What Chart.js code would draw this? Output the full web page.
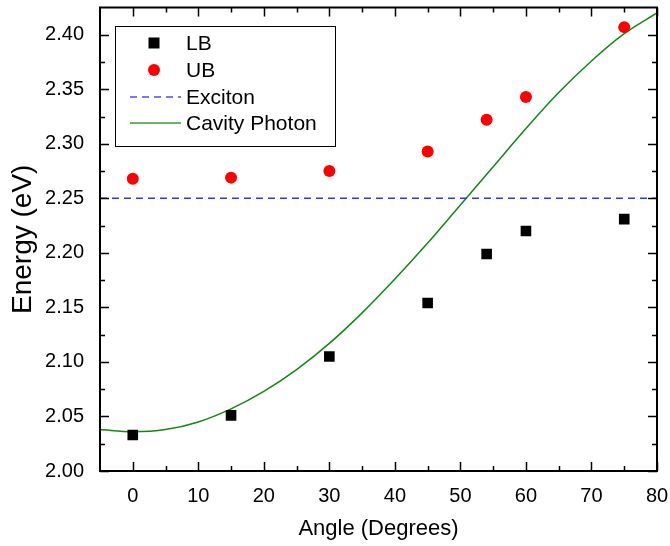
<!DOCTYPE html>
<html>
<head>
<meta charset="utf-8">
<script src="https://cdn.jsdelivr.net/npm/chart.js@4.4.0/dist/chart.umd.min.js"></script>
<style>
    html, body { margin: 0; padding: 0; background: #fff; }
    #wrap { width: 670px; height: 546px; }
</style>
</head>
<body>
<div id="wrap"><canvas id="chart" width="670" height="546"></canvas></div>
<script>
// measured points
const angles = [0, 15, 30, 45, 54, 60, 75];
const lbEnergy = [2.033, 2.051, 2.105, 2.154, 2.199, 2.220, 2.231];
const ubEnergy = [2.268, 2.269, 2.275, 2.293, 2.322, 2.343, 2.407];

// exciton level
const excitonAngles = [-5, 80];
const excitonEnergy = [2.25, 2.25];

// cavity photon curve, every 5 degrees
const photonAngles = [-5, 0, 5, 10, 15, 20, 25, 30, 35, 40, 45, 50, 55, 60, 65, 70, 75, 80];
const photonEnergy = [2.038, 2.036, 2.038, 2.045, 2.057, 2.073, 2.093, 2.117, 2.145, 2.176, 2.209, 2.244, 2.279, 2.314, 2.347, 2.376, 2.401, 2.420];

const xTicks = [0, 10, 20, 30, 40, 50, 60, 70, 80];
const yTicks = [2.00, 2.05, 2.10, 2.15, 2.20, 2.25, 2.30, 2.35, 2.40];

const FONT = 'Liberation Sans, Arial, sans-serif';

const toPoints = (xs, ys) => xs.map((x, i) => ({ x: x, y: ys[i] }));

// frame with inward ticks on all four sides
const framePlugin = {
    id: 'frame',
    afterDatasetsDraw(chart) {
        const { ctx, chartArea: a, scales } = chart;
        const xs = scales.x, ys = scales.y;
        ctx.save();
        ctx.strokeStyle = '#000';
        ctx.lineWidth = 1.5;
        ctx.beginPath();
        for (let v = 0; v <= 80; v += 5) {
            const px = Math.round(xs.getPixelForValue(v)) + 0.5;
            const len = v % 10 === 0 ? 9 : 5;
            ctx.moveTo(px, a.bottom); ctx.lineTo(px, a.bottom - len);
            ctx.moveTo(px, a.top); ctx.lineTo(px, a.top + len);
        }
        for (let k = 0; k <= 16; k++) {
            const v = 2.0 + k * 0.025;
            const py = Math.round(ys.getPixelForValue(v)) + 0.5;
            const len = k % 2 === 0 ? 9 : 5;
            ctx.moveTo(a.left, py); ctx.lineTo(a.left + len, py);
            ctx.moveTo(a.right, py); ctx.lineTo(a.right - len, py);
        }
        ctx.stroke();
        ctx.lineWidth = 2;
        ctx.strokeRect(a.left, a.top, a.right - a.left, a.bottom - a.top);
        ctx.restore();
    }
};

// boxed legend in the upper left
const legendPlugin = {
    id: 'boxLegend',
    afterDraw(chart) {
        const ctx = chart.ctx;
        const box = { x: 115, y: 26, w: 220, h: 120 };
        ctx.save();
        ctx.fillStyle = '#fff';
        ctx.fillRect(box.x, box.y, box.w, box.h);
        ctx.strokeStyle = '#000';
        ctx.lineWidth = 1;
        ctx.strokeRect(box.x + 0.5, box.y + 0.5, box.w, box.h);

        const rows = [43, 70, 97, 123];
        const sx = 154, tx = 186;
        const labels = chart.data.datasets.map(d => d.label);

        ctx.fillStyle = '#000';
        ctx.fillRect(sx - 5.5, rows[0] - 5.5, 11, 11);

        ctx.fillStyle = '#ff0000';
        ctx.beginPath();
        ctx.arc(sx, rows[1], 6, 0, Math.PI * 2);
        ctx.fill();

        ctx.strokeStyle = '#4b4bff';
        ctx.lineWidth = 1.5;
        ctx.setLineDash([7, 5]);
        ctx.beginPath();
        ctx.moveTo(130, rows[2]); ctx.lineTo(181, rows[2]);
        ctx.stroke();

        ctx.setLineDash([]);
        ctx.strokeStyle = '#3a9a3a';
        ctx.beginPath();
        ctx.moveTo(130, rows[3]); ctx.lineTo(181, rows[3]);
        ctx.stroke();

        ctx.fillStyle = '#000';
        ctx.font = '21px ' + FONT;
        ctx.textBaseline = 'middle';
        labels.forEach((t, i) => ctx.fillText(t, tx, rows[i] + 1));
        ctx.restore();
    }
};

new Chart(document.getElementById('chart'), {
    type: 'scatter',
    data: {
        datasets: [{
            label: 'LB',
            data: toPoints(angles, lbEnergy),
            pointStyle: 'rect',
            pointRadius: 7.5,
            backgroundColor: '#000',
            borderColor: '#000',
            borderWidth: 0
        }, {
            label: 'UB',
            data: toPoints(angles, ubEnergy),
            pointStyle: 'circle',
            pointRadius: 6,
            backgroundColor: '#ff0000',
            borderColor: '#ff0000',
            borderWidth: 0
        }, {
            label: 'Exciton',
            data: toPoints(excitonAngles, excitonEnergy),
            showLine: true,
            pointRadius: 0,
            borderColor: '#3333ff',
            borderWidth: 1.5,
            borderDash: [7, 5]
        }, {
            label: 'Cavity Photon',
            data: toPoints(photonAngles, photonEnergy),
            showLine: true,
            pointRadius: 0,
            borderColor: '#118811',
            borderWidth: 1.5,
            cubicInterpolationMode: 'monotone'
        }]
    },
    options: {
        responsive: false,
        animation: false,
        layout: { padding: { top: 6, right: 13, left: 0, bottom: 0 } },
        plugins: {
            legend: { display: false },
            tooltip: { enabled: false }
        },
        scales: {
            x: {
                type: 'linear',
                min: -5,
                max: 80,
                grid: { display: false },
                border: { display: false },
                afterBuildTicks: (s) => { s.ticks = xTicks.map(v => ({ value: v })); },
                afterFit: (s) => { s.height = 75; s.paddingLeft = 0; s.paddingRight = 0; },
                ticks: {
                    color: '#000',
                    padding: 5,
                    maxRotation: 0,
                    font: { family: FONT, size: 20 }
                },
                title: {
                    display: true,
                    text: 'Angle (Degrees)',
                    color: '#000',
                    padding: { top: 0, bottom: 4 },
                    font: { family: FONT, size: 22 }
                }
            },
            y: {
                type: 'linear',
                min: 2.0,
                max: 2.425,
                grid: { display: false },
                border: { display: false },
                afterBuildTicks: (s) => { s.ticks = yTicks.map(v => ({ value: v })); },
                afterFit: (s) => { s.width = 100; s.paddingTop = 0; s.paddingBottom = 0; },
                ticks: {
                    color: '#000',
                    padding: 8,
                    font: { family: FONT, size: 20 },
                    callback: (v) => Number(v).toFixed(2)
                },
                title: {
                    display: true,
                    text: 'Energy (eV)',
                    color: '#000',
                    padding: { top: 6, bottom: 0 },
                    font: { family: FONT, size: 28 }
                }
            }
        }
    },
    plugins: [framePlugin, legendPlugin]
});
</script>
</body>
</html>
